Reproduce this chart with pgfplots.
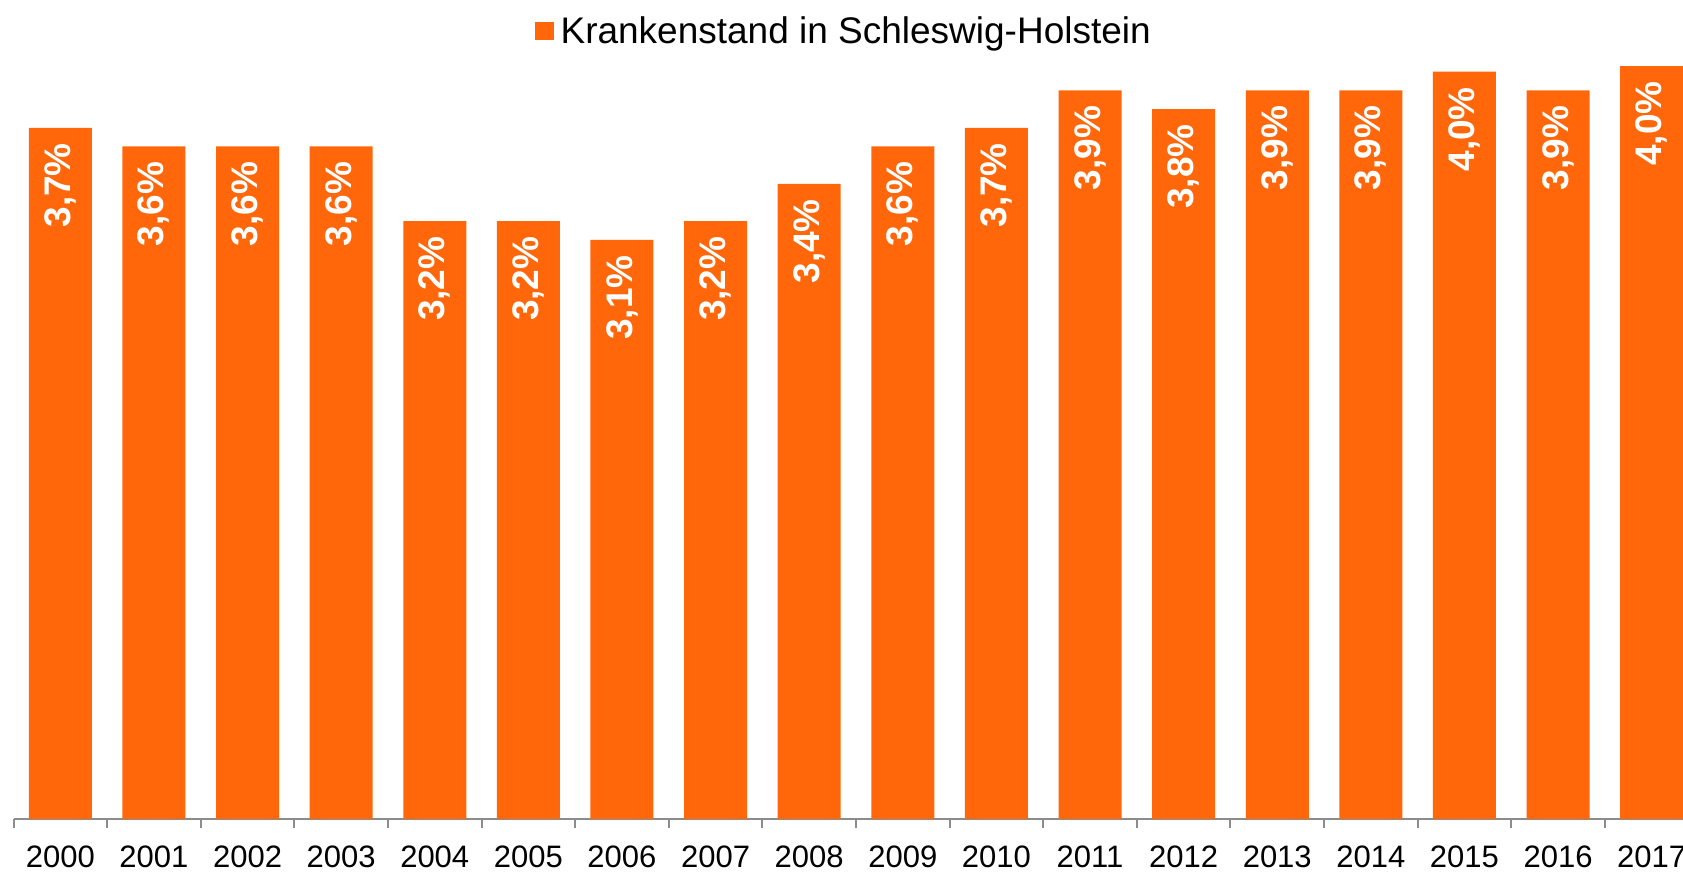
\documentclass[border=0pt]{standalone}
\usepackage{pgfplots}
\pgfplotsset{compat=1.18}
\usepackage{fontspec}
\setmainfont{Liberation Sans}
\definecolor{barorange}{RGB}{255,103,10}
\definecolor{axgray}{RGB}{140,140,140}
\begin{document}
\begin{tikzpicture}
\useasboundingbox (-6.75pt,-27pt) rectangle (834.75pt,409.5pt);
\clip (-6.75pt,-27pt) rectangle (834.75pt,409.5pt);
\begin{axis}[
  at={(0,0)}, anchor=south west,
  scale only axis,
  width=842.5pt, height=409.5pt,
  xmin=-0.5, xmax=17.5,
  ymin=0, ymax=4.384,
  axis x line*=bottom,
  axis y line=none,
  x axis line style={axgray, line width=1pt},
  xtick={0,...,17},
  xticklabels={2000,2001,2002,2003,2004,2005,2006,2007,2008,2009,2010,2011,2012,2013,2014,2015,2016,2017},
  major tick length=0pt,
  minor xtick={-0.5,0.5,...,17.5},
  minor tick length=4.5pt,
  tick align=outside,
  minor tick style={axgray, line width=1pt},
  xticklabel style={font=\fontsize{15.5pt}{18pt}\selectfont, inner sep=0pt, anchor=north, yshift=-13pt},
  /pgf/number format/assume math mode=true,
  ybar, bar width=31.5pt,
  legend style={at={(rel axis cs:0.309,0.962)}, anchor=west, draw=none, fill=none, inner sep=0pt,
    font=\fontsize{18.5pt}{22pt}\selectfont, legend cell align=left},
  legend image code/.code={\fill[barorange] (0pt,-4.5pt) rectangle (9.5pt,4.5pt);},
  nodes near coords={\pgfmathprintnumber[fixed, fixed zerofill, precision=1, use comma, assume math mode=true]{\pgfplotspointmeta}\%},
  every node near coord/.style={yshift=-7.5pt, rotate=90, anchor=east, inner sep=0pt, text=white,
    font=\fontsize{18.5pt}{22pt}\selectfont\bfseries},
]
\addplot[fill=barorange, draw=none] coordinates {
(0,3.7) (1,3.6) (2,3.6) (3,3.6) (4,3.2) (5,3.2) (6,3.1) (7,3.2) (8,3.4)
(9,3.6) (10,3.7) (11,3.9) (12,3.8) (13,3.9) (14,3.9) (15,4.0) (16,3.9) (17,4.03)};
\addlegendentry{\hspace*{1.5pt}Krankenstand in Schleswig-Holstein}
\end{axis}
\end{tikzpicture}
\end{document}
